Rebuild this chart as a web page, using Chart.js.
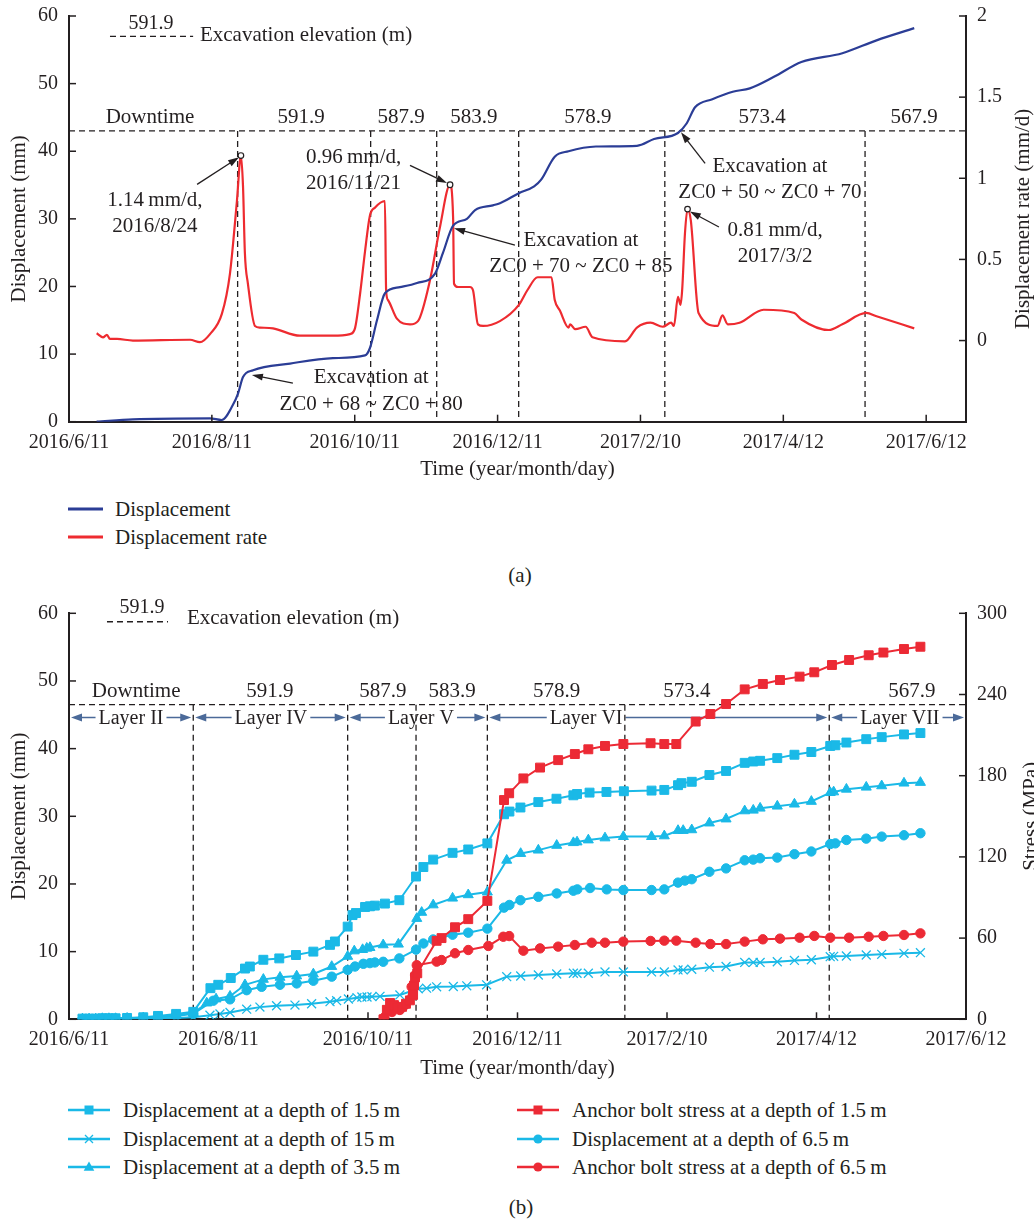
<!DOCTYPE html>
<html>
<head>
<meta charset="utf-8">
<title>Displacement, displacement rate and anchor bolt stress</title>
<script src="https://cdn.jsdelivr.net/npm/chart.js@4.4.1/dist/chart.umd.min.js"></script>
<style>
  body { margin: 0; background: #fff; }
  #page { position: relative; width: 1034px; height: 1219px; font-family: "Liberation Serif", "DejaVu Serif", serif; color: #231f20; overflow: hidden; }
  canvas { position: absolute; left: 0; }
  .item { position: absolute; height: 24px; display: flex; align-items: center; white-space: nowrap; font-size: 21px; }
  .item svg { flex: none; }
  .caption { position: absolute; font-size: 21px; transform: translate(-50%, -50%); }
</style>
</head>
<body>
<div id="page">
  <canvas id="chartA" width="1034" height="490" style="top:-8px"></canvas>
  <div id="legendA"></div>
  <div class="caption" style="left:520px; top:575px">(a)</div>
  <canvas id="chartB" width="1034" height="492" style="top:590px"></canvas>
  <div id="legendB"></div>
  <div class="caption" style="left:521px; top:1207px">(b)</div>
</div>
<script>
// shared time axis: days since 2016/6/11
const tickDays = [0, 61, 122, 183, 244, 305, 366];
const tickLabels = ["2016/6/11", "2016/8/11", "2016/10/11", "2016/12/11", "2017/2/10", "2017/4/12", "2017/6/12"];

// ---- chart (a) ----
const dispDays = [11.8, 27.3, 60.2, 65.2, 70.0, 72.2, 74.3, 78.6, 94.4, 112.7, 126.4, 128.5, 131.5, 134.9, 141.3, 148.6, 156.3, 159.7, 164.0, 169.9, 173.4, 181.0, 184.0, 192.1, 198.6, 201.6, 207.4, 213.3, 225.0, 242.5, 249.8, 260.0, 263.7, 267.3, 274.7, 283.4, 290.7, 301.0, 312.7, 330.2, 344.8, 360.9];
const dispValues = [0, 0.35, 0.5, 0.25, 2.5, 4.2, 6.6, 7.6, 8.6, 9.4, 9.8, 10.9, 15, 19, 19.9, 20.5, 21.9, 25, 29, 30, 31.3, 32, 32.3, 33.8, 34.8, 35.8, 39.2, 40, 40.7, 40.8, 41.8, 42.7, 44.1, 46.5, 47.7, 48.8, 49.3, 51, 53.2, 54.5, 56.4, 58.2];

const rateDays = [11.8, 14.5, 16.2, 17.5, 20.5, 27.3, 51.7, 55.9, 60.2, 65.3, 68.7, 71.7, 73.4, 74.3, 75.1, 76.4, 79.4, 81.6, 87.1, 98.6, 112.7, 120.0, 122.1, 124.3, 126.4, 128.5, 130.7, 134.9, 135.4, 136.2, 140.0, 145.6, 149.0, 154.1, 158.4, 162.7, 164.0, 164.4, 166.1, 171.2, 172.5, 174.6, 176.8, 184.0, 192.1, 195.7, 200.1, 206.0, 207.4, 209.6, 213.3, 214.0, 216.2, 220.6, 223.5, 237.4, 242.5, 248.3, 253.5, 257.1, 258.3, 260.0, 261.1, 261.8, 263.0, 264.1, 265.5, 268.8, 276.9, 279.0, 281.3, 286.3, 296.6, 309.7, 312.7, 324.4, 330.2, 340.4, 344.8, 360.9];
const rateValues = [0.045, 0.02, 0.035, 0.01, 0.01, 0, 0.005, -0.01, 0.04, 0.166, 0.41, 0.86, 1.14, 0.95, 0.54, 0.35, 0.09, 0.08, 0.075, 0.03, 0.03, 0.04, 0.075, 0.29, 0.55, 0.77, 0.82, 0.86, 0.31, 0.25, 0.135, 0.10, 0.12, 0.37, 0.70, 0.96, 0.76, 0.35, 0.33, 0.33, 0.31, 0.10, 0.09, 0.12, 0.22, 0.31, 0.39, 0.39, 0.25, 0.185, 0.08, 0.10, 0.07, 0.085, 0.02, -0.005, 0.08, 0.11, 0.085, 0.11, 0.09, 0.27, 0.22, 0.31, 0.66, 0.81, 0.74, 0.17, 0.09, 0.155, 0.10, 0.11, 0.19, 0.17, 0.13, 0.065, 0.10, 0.17, 0.15, 0.075];
const rateTicks = [0, 0.5, 1, 1.5, 2];

const peakDays = [73.4, 162.7, 264.1];
const peakRates = [1.14, 0.96, 0.81];

const stageDaysA = [72.0, 128.8, 157.0, 192.0, 254.4, 339.9];
const stageLabels = ["Downtime", "591.9", "587.9", "583.9", "578.9", "573.4", "567.9"];
const stageLabelDaysA = [34.6, 99.1, 141.8, 172.9, 221.6, 295.9, 360.8];
const elevLineA = 43;

// ---- chart (b) ----
const d15Days = [5.5, 8.2, 10.9, 13.6, 16.3, 19.0, 23.7, 30.3, 36.3, 43.7, 50.7, 57.7, 60.9, 66.0, 71.8, 73.8, 79.3, 85.8, 92.6, 99.7, 106.5, 108.5, 113.7, 115.7, 117.1, 120.8, 122.8, 124.8, 128.9, 134.8, 141.6, 144.6, 148.6, 156.5, 162.9, 170.7, 177.5, 179.7, 184.2, 191.5, 198.9, 205.8, 207.3, 212.4, 219.3, 226.4, 237.7, 242.9, 248.5, 249.9, 254.1, 261.3, 268.1, 275.7, 279.2, 282.0, 289.0, 296.0, 302.9, 310.6, 312.7, 317.2, 325.3, 331.6, 340.7, 347.4];
const d15Values = [0.1, 0.1, 0.1, 0.15, 0.15, 0.15, 0.2, 0.3, 0.5, 0.8, 1.1, 4.6, 5.1, 6.1, 7.5, 7.8, 8.8, 9.0, 9.5, 10.0, 11.0, 11.5, 13.7, 15.4, 15.7, 16.6, 16.7, 16.8, 17.1, 17.6, 21.1, 22.5, 23.6, 24.6, 25.1, 26.0, 30.3, 30.7, 31.3, 32.1, 32.6, 33.1, 33.3, 33.5, 33.6, 33.7, 33.8, 33.9, 34.6, 34.9, 35.1, 36.1, 36.7, 37.9, 38.1, 38.2, 38.6, 39.1, 39.5, 40.4, 40.5, 40.9, 41.4, 41.7, 42.1, 42.3];

const d150Days = [5.5, 8.2, 10.9, 13.6, 16.3, 19.0, 23.7, 30.3, 36.3, 43.7, 50.7, 57.5, 61.6, 65.7, 72.5, 77.9, 84.7, 92.2, 99.0, 106.5, 109.2, 114.0, 117.5, 119.5, 121.6, 123.6, 126.9, 135.0, 142.5, 145.9, 150.0, 156.8, 162.3, 170.4, 178.6, 184.3, 191.5, 199.0, 205.8, 207.3, 211.9, 218.7, 226.2, 237.7, 242.9, 248.5, 250.6, 254.1, 261.3, 268.1, 275.7, 279.2, 282.0, 289.0, 296.0, 302.9, 310.6, 312.0, 317.2, 325.3, 331.6, 340.7, 347.4];
const d150Values = [0, 0, 0, 0.05, 0.05, 0.05, 0.1, 0.1, 0.15, 0.2, 0.3, 0.6, 0.8, 1.0, 1.5, 1.8, 2.0, 2.1, 2.3, 2.6, 2.75, 3.0, 3.2, 3.3, 3.3, 3.35, 3.4, 3.6, 4.5, 4.6, 4.8, 4.85, 4.95, 5.1, 6.3, 6.4, 6.55, 6.7, 6.8, 6.8, 6.8, 7.0, 7.0, 7.0, 7.0, 7.3, 7.3, 7.4, 7.7, 7.8, 8.4, 8.4, 8.4, 8.5, 8.7, 8.8, 9.25, 9.3, 9.35, 9.5, 9.6, 9.75, 9.85];

const d35Days = [5.5, 8.2, 10.9, 13.6, 16.3, 19.0, 23.7, 30.3, 36.3, 43.7, 50.7, 56.2, 60.0, 65.7, 71.8, 79.3, 86.1, 92.9, 99.7, 107.2, 113.7, 116.4, 119.8, 121.5, 122.8, 128.2, 134.4, 141.9, 143.9, 148.6, 156.5, 162.9, 170.7, 178.6, 184.3, 191.5, 199.0, 205.8, 207.3, 211.9, 218.7, 226.2, 237.7, 242.9, 248.5, 250.6, 254.1, 261.3, 268.1, 275.7, 279.2, 282.0, 289.0, 296.0, 302.9, 310.6, 312.0, 317.2, 325.3, 331.6, 340.7, 347.4];
const d35Values = [0.05, 0.05, 0.05, 0.1, 0.1, 0.1, 0.15, 0.2, 0.35, 0.6, 0.9, 2.4, 3.0, 3.4, 5.1, 5.9, 6.2, 6.4, 6.7, 7.8, 9.3, 10.1, 10.3, 10.5, 10.6, 11.0, 11.1, 14.9, 15.8, 16.9, 17.9, 18.4, 18.8, 23.5, 24.5, 25.0, 25.7, 26.1, 26.2, 26.5, 26.8, 27.0, 27.0, 27.1, 27.9, 27.9, 28.0, 29.0, 29.6, 30.8, 30.9, 31.2, 31.5, 31.8, 32.2, 33.5, 33.6, 34.0, 34.3, 34.5, 34.9, 35.0];

const d65Days = [5.5, 8.2, 10.9, 13.6, 16.3, 19.0, 23.7, 30.3, 36.3, 43.7, 50.7, 58.9, 65.7, 72.5, 78.6, 86.1, 92.9, 99.7, 107.2, 113.7, 116.7, 120.1, 122.8, 124.8, 128.2, 134.8, 141.6, 144.6, 148.6, 156.5, 162.9, 170.7, 177.5, 179.7, 184.2, 191.5, 199.0, 205.8, 207.4, 212.6, 219.4, 226.2, 237.7, 242.9, 248.5, 251.3, 254.1, 261.3, 268.1, 275.7, 279.2, 282.0, 289.0, 296.0, 302.9, 310.6, 312.7, 317.2, 325.3, 331.6, 340.7, 347.4];
const d65Values = [0.05, 0.05, 0.05, 0.1, 0.1, 0.1, 0.15, 0.2, 0.3, 0.5, 0.8, 2.75, 2.95, 4.3, 4.8, 5.1, 5.3, 5.7, 6.3, 7.3, 7.8, 8.2, 8.3, 8.4, 8.5, 9.0, 10.3, 11.2, 11.8, 12.5, 12.8, 13.4, 16.5, 16.9, 17.6, 18.1, 18.6, 19.0, 19.2, 19.4, 19.2, 19.1, 19.1, 19.2, 20.2, 20.5, 20.7, 21.8, 22.3, 23.5, 23.6, 23.8, 23.9, 24.4, 24.8, 25.9, 26.0, 26.5, 26.7, 27.0, 27.2, 27.5];

const s15Days = [128.3, 129.7, 131.0, 132.6, 134.2, 135.9, 137.5, 139.1, 140.4, 140.8, 141.2, 142.1, 150.0, 152.0, 157.5, 162.9, 170.7, 177.5, 179.6, 185.4, 192.2, 199.6, 206.4, 211.9, 218.7, 226.2, 237.3, 242.9, 247.8, 255.7, 261.7, 268.1, 275.7, 283.1, 290.1, 298.1, 304.1, 311.3, 318.3, 326.3, 332.3, 340.7, 347.4];
const s15Values = [0, 7, 12, 10.5, 8.5, 9.2, 11.5, 14, 18, 25, 31, 34, 58, 60, 68, 74, 87.5, 162, 167, 178, 186, 191.5, 196, 199.5, 202, 203.4, 204, 203.4, 203.4, 220, 225.6, 233, 243.8, 247.8, 250.7, 253.2, 256.4, 261.8, 265.5, 269, 271, 273.6, 275.3];

const s65Days = [128.7, 131.8, 135.0, 137.1, 139.8, 141.2, 141.9, 150.0, 152.0, 157.5, 162.9, 171.1, 177.2, 179.6, 185.4, 192.2, 199.6, 206.4, 213.3, 218.7, 226.2, 237.3, 242.9, 247.8, 255.7, 261.7, 268.1, 275.7, 283.1, 290.1, 298.1, 304.1, 310.6, 318.3, 326.3, 332.3, 340.7, 347.4];
const s65Values = [1.5, 5.4, 6.9, 10.6, 24, 32.7, 40, 42.6, 43.8, 48.8, 51.2, 54.2, 61, 61.5, 50.7, 52.4, 53.7, 54.9, 56.6, 56.6, 57.4, 57.9, 58.1, 58.1, 56.6, 55.6, 55.6, 57.4, 59.1, 59.6, 60.3, 61.6, 60.3, 60.3, 61, 61.6, 62.3, 63.5];

const stageDaysB = [50.7, 113.7, 141.6, 170.7, 226.8, 310.2];
const stageLabelDaysB = [27.4, 82.0, 128.1, 156.3, 199.0, 252.1, 343.9];
const elevLineB = 46.5;
const layerNames = ["Layer II", "Layer IV", "Layer V", "Layer VI", "Layer VII"];
const layerBounds = [0, 50.7, 113.7, 170.7, 310.2, 366];
const layerLabelDays = [25.3, 82.4, 143.6, 211.0, 339.0];
const layerArrowVal = 44.6;

// colours and fonts
const ink = "#231f20";
const blue = "#2b3d96";
const red = "#ee2b30";
const cyan = "#1ab9e7";
const red2 = "#ec2a35";
const layerBlue = "#4b6a99";
const serif = "'Liberation Serif', 'DejaVu Serif', serif";

Chart.defaults.font.family = serif;
Chart.defaults.font.size = 20;
Chart.defaults.color = ink;

// annotation layout for (a), in data units (day, displacement)
const notesA = [
  { lines: ["1.14\u2009mm/d,", "2016/8/24"], day: 36.7, vals: [32.7, 28.9], align: "center", from: [54.7, 35.1], to: [72.6, 39.1] },
  { lines: ["0.96\u2009mm/d,", "2016/11/21"], day: 101.2, vals: [39.1, 35.3], align: "left", from: [145.6, 37.9], to: [161.4, 35.3] },
  { lines: ["Excavation at", "ZC0 + 68 ~ ZC0 + 80"], day: 129, vals: [6.5, 2.6], align: "center", from: [95.6, 5.7], to: [78.1, 6.9] },
  { lines: ["Excavation at", "ZC0 + 70 ~ ZC0 + 85"], day: 218.6, vals: [26.8, 23.0], align: "center", from: [190.4, 26.1], to: [164.4, 28.6] },
  { lines: ["Excavation at", "ZC0 + 50 ~ ZC0 + 70"], day: 299.3, vals: [37.8, 33.9], align: "center", from: [271.6, 38.2], to: [261.3, 42.8] },
  { lines: ["0.81\u2009mm/d,", "2017/3/2"], day: 301.5, vals: [28.3, 24.5], align: "center", from: [277.5, 28.8], to: [265.1, 31.1] }
];
const keyA = { from: 17.5, to: 53, lineVal: 57, numDay: 35, numVal: 58.9, textDay: 55.9, textVal: 57.1 };
const keyB = { from: 15.5, to: 40.4, lineVal: 58.75, numDay: 29.8, numVal: 60.8, textDay: 48.1, textVal: 59.3 };

function pts(days, values) {
  return days.map((d, i) => ({ x: d, y: values[i] }));
}

function seg(ctx, x1, y1, x2, y2) {
  ctx.beginPath();
  ctx.moveTo(x1, y1);
  ctx.lineTo(x2, y2);
  ctx.stroke();
}

function arrowHead(ctx, x1, y1, x2, y2, len, half) {
  const a = Math.atan2(y2 - y1, x2 - x1);
  const bx = x2 - len * Math.cos(a), by = y2 - len * Math.sin(a);
  ctx.beginPath();
  ctx.moveTo(x2, y2);
  ctx.lineTo(bx + half * Math.sin(a), by - half * Math.cos(a));
  ctx.lineTo(bx - half * Math.sin(a), by + half * Math.cos(a));
  ctx.closePath();
  ctx.fill();
}

function arrow(ctx, x1, y1, x2, y2) {
  const a = Math.atan2(y2 - y1, x2 - x1);
  seg(ctx, x1, y1, x2 - 6 * Math.cos(a), y2 - 6 * Math.sin(a));
  arrowHead(ctx, x1, y1, x2, y2, 11, 3.5);
}

function dateTicks(scale) {
  scale.ticks = tickDays.map(v => ({ value: v }));
}

function inwardTicks(chart) {
  const { ctx, chartArea: a, scales } = chart;
  ctx.save();
  ctx.strokeStyle = ink;
  ctx.lineWidth = 1.5;
  scales.x.ticks.forEach(t => {
    const p = scales.x.getPixelForValue(t.value);
    seg(ctx, p, a.bottom, p, a.bottom - 7);
  });
  scales.y.ticks.forEach(t => {
    const p = scales.y.getPixelForValue(t.value);
    seg(ctx, a.left, p, a.left + 7, p);
  });
  scales.y1.ticks.forEach(t => {
    const p = scales.y1.getPixelForValue(t.value);
    seg(ctx, a.right, p, a.right - 7, p);
  });
  ctx.restore();
}

function sideTitle(chart, text, x) {
  const { ctx, chartArea: a } = chart;
  ctx.save();
  ctx.translate(x, (a.top + a.bottom) / 2);
  ctx.rotate(-Math.PI / 2);
  ctx.font = "21px " + serif;
  ctx.fillStyle = ink;
  ctx.textAlign = "center";
  ctx.textBaseline = "middle";
  ctx.fillText(text, 0, 0);
  ctx.restore();
}

function elevationKey(chart, key) {
  const { ctx, scales: { x, y } } = chart;
  ctx.save();
  ctx.strokeStyle = ink;
  ctx.fillStyle = ink;
  ctx.lineWidth = 1.3;
  ctx.setLineDash([6, 4]);
  const ly = y.getPixelForValue(key.lineVal);
  seg(ctx, x.getPixelForValue(key.from), ly, x.getPixelForValue(key.to), ly);
  ctx.setLineDash([]);
  ctx.font = "20px " + serif;
  ctx.textBaseline = "middle";
  ctx.textAlign = "center";
  ctx.fillText("591.9", x.getPixelForValue(key.numDay), y.getPixelForValue(key.numVal));
  ctx.font = "21px " + serif;
  ctx.textAlign = "left";
  ctx.fillText("Excavation elevation (m)", x.getPixelForValue(key.textDay), y.getPixelForValue(key.textVal));
  ctx.restore();
}

function stageLines(chart, days, level) {
  const { ctx, chartArea: a, scales: { x, y } } = chart;
  const ly = y.getPixelForValue(level);
  ctx.save();
  ctx.strokeStyle = ink;
  ctx.lineWidth = 1.3;
  ctx.setLineDash([6, 4]);
  seg(ctx, a.left, ly, a.right, ly);
  days.forEach(d => {
    const px = x.getPixelForValue(d);
    seg(ctx, px, ly, px, a.bottom);
  });
  ctx.restore();
}

function stageText(chart, days, val) {
  const { ctx, scales: { x, y } } = chart;
  ctx.save();
  ctx.fillStyle = ink;
  ctx.font = "21px " + serif;
  ctx.textAlign = "center";
  ctx.textBaseline = "middle";
  stageLabels.forEach((t, i) => ctx.fillText(t, x.getPixelForValue(days[i]), y.getPixelForValue(val)));
  ctx.restore();
}

const overlayA = {
  id: "overlayA",
  beforeDatasetsDraw(chart) {
    stageLines(chart, stageDaysA, elevLineA);
    stageText(chart, stageLabelDaysA, 45.0);
    elevationKey(chart, keyA);
  },
  afterDatasetsDraw(chart) {
    const { ctx, scales: { x, y, y1 } } = chart;
    ctx.save();
    ctx.fillStyle = ink;
    ctx.strokeStyle = ink;
    ctx.lineWidth = 1.3;
    ctx.font = "21px " + serif;
    ctx.textBaseline = "middle";
    notesA.forEach(n => {
      ctx.textAlign = n.align;
      n.lines.forEach((t, i) => ctx.fillText(t, x.getPixelForValue(n.day), y.getPixelForValue(n.vals[i])));
      arrow(ctx, x.getPixelForValue(n.from[0]), y.getPixelForValue(n.from[1]),
        x.getPixelForValue(n.to[0]), y.getPixelForValue(n.to[1]));
    });
    peakDays.forEach((d, i) => {
      ctx.beginPath();
      ctx.arc(x.getPixelForValue(d), y1.getPixelForValue(peakRates[i]), 2.8, 0, Math.PI * 2);
      ctx.fillStyle = "#fff";
      ctx.fill();
      ctx.lineWidth = 1.2;
      ctx.stroke();
    });
    ctx.restore();
  },
  afterDraw(chart) {
    inwardTicks(chart);
    sideTitle(chart, "Displacement rate (mm/d)", 1023.5);
  }
};

const overlayB = {
  id: "overlayB",
  beforeDatasetsDraw(chart) {
    const { ctx, scales: { x, y } } = chart;
    const py = y.getPixelForValue(layerArrowVal);
    ctx.save();
    ctx.strokeStyle = layerBlue;
    ctx.lineWidth = 1.5;
    ctx.font = "20px " + serif;
    ctx.textAlign = "center";
    ctx.textBaseline = "middle";
    layerNames.forEach((name, i) => {
      const x1 = x.getPixelForValue(layerBounds[i]) + 2;
      const x2 = x.getPixelForValue(layerBounds[i + 1]) - 2;
      ctx.fillStyle = layerBlue;
      seg(ctx, x1 + 6, py, x2 - 6, py);
      arrowHead(ctx, x1 + 12, py, x1, py, 11, 4);
      arrowHead(ctx, x2 - 12, py, x2, py, 11, 4);
      const lx = x.getPixelForValue(layerLabelDays[i]);
      const w = ctx.measureText(name).width + 6;
      ctx.fillStyle = "#fff";
      ctx.fillRect(lx - w / 2, py - 11, w, 22);
      ctx.fillStyle = ink;
      ctx.fillText(name, lx, py + 1);
    });
    ctx.restore();
    stageLines(chart, stageDaysB, elevLineB);
    stageText(chart, stageLabelDaysB, 48.4);
    elevationKey(chart, keyB);
  },
  afterDraw(chart) {
    inwardTicks(chart);
    sideTitle(chart, "Stress (MPa)", 1031);
  }
};

function timeAxis(max, height, labelPad, titlePad) {
  return {
    type: "linear",
    min: 0,
    max: max,
    afterBuildTicks: dateTicks,
    afterFit: s => { s.height = height; },
    grid: { display: false, drawTicks: false },
    border: { color: ink, width: 2 },
    ticks: { callback: (v, i) => tickLabels[i], padding: labelPad, maxRotation: 0, autoSkip: false },
    title: { display: true, text: "Time (year/month/day)", font: { size: 21 }, padding: { top: 0, bottom: titlePad } }
  };
}

function leftAxis() {
  return {
    position: "left",
    min: 0,
    max: 60,
    afterFit: s => { s.width = 69; },
    grid: { display: false, drawTicks: false },
    border: { color: ink, width: 2 },
    ticks: { stepSize: 10, padding: 11 },
    title: { display: true, text: "Displacement (mm)", font: { size: 21 }, padding: { top: 6.5, bottom: 0 } }
  };
}

// chart (a)
new Chart(document.getElementById("chartA"), {
  type: "line",
  data: {
    datasets: [
      { label: "Displacement", data: pts(dispDays, dispValues), borderColor: blue, borderWidth: 2.2, pointRadius: 0, cubicInterpolationMode: "monotone", yAxisID: "y" },
      { label: "Displacement rate", data: pts(rateDays, rateValues), borderColor: red, borderWidth: 2.2, pointRadius: 0, cubicInterpolationMode: "monotone", yAxisID: "y1" }
    ]
  },
  options: {
    responsive: false,
    animation: false,
    layout: { padding: { top: 24, left: 0, right: 0, bottom: 0 } },
    plugins: { legend: { display: false }, tooltip: { enabled: false } },
    scales: {
      x: timeAxis(383, 60.3, 9, 0),
      y: leftAxis(),
      y1: {
        position: "right",
        min: -0.5,
        max: 2,
        afterBuildTicks: s => { s.ticks = rateTicks.map(v => ({ value: v })); },
        afterFit: s => { s.width = 68; },
        grid: { display: false, drawTicks: false },
        border: { color: ink, width: 2 },
        ticks: { padding: 11, callback: v => String(v) }
      }
    }
  },
  plugins: [overlayA]
});

// chart (b)
const chartB = new Chart(document.getElementById("chartB"), {
  type: "line",
  data: {
    datasets: [
      { label: "Anchor bolt stress at a depth of 1.5\u2009m", data: pts(s15Days, s15Values), color: red2, pointStyle: "rect", pointRadius: 6.3, yAxisID: "y1", slot: [1, 0] },
      { label: "Anchor bolt stress at a depth of 6.5\u2009m", data: pts(s65Days, s65Values), color: red2, pointStyle: "circle", pointRadius: 4.7, yAxisID: "y1", slot: [1, 2] },
      { label: "Displacement at a depth of 1.5\u2009m", data: pts(d15Days, d15Values), color: cyan, pointStyle: "rect", pointRadius: 6.3, yAxisID: "y", slot: [0, 0] },
      { label: "Displacement at a depth of 3.5\u2009m", data: pts(d35Days, d35Values), color: cyan, pointStyle: "triangle", pointRadius: 5.8, yAxisID: "y", slot: [0, 2] },
      { label: "Displacement at a depth of 6.5\u2009m", data: pts(d65Days, d65Values), color: cyan, pointStyle: "circle", pointRadius: 4.7, yAxisID: "y", slot: [1, 1] },
      { label: "Displacement at a depth of 15\u2009m", data: pts(d150Days, d150Values), color: cyan, pointStyle: "crossRot", pointRadius: 6.3, yAxisID: "y", slot: [0, 1] }
    ].map(ds => Object.assign(ds, {
      borderColor: ds.color,
      backgroundColor: ds.color,
      pointBorderColor: ds.color,
      pointBackgroundColor: ds.color,
      pointBorderWidth: ds.pointStyle === "crossRot" ? 1.3 : 1,
      borderWidth: 2,
      tension: 0
    }))
  },
  options: {
    responsive: false,
    animation: false,
    layout: { padding: { top: 23.3, left: 0, right: 0, bottom: 0 } },
    plugins: { legend: { display: false }, tooltip: { enabled: false } },
    scales: {
      x: timeAxis(366, 62.7, 8, 0.7),
      y: leftAxis(),
      y1: {
        position: "right",
        min: 0,
        max: 300,
        afterFit: s => { s.width = 68; },
        grid: { display: false, drawTicks: false },
        border: { color: ink, width: 2 },
        ticks: { stepSize: 60, padding: 11 }
      }
    }
  },
  plugins: [overlayB]
});

// legends
function swatch(style, color, width) {
  const c = width / 2;
  let m = "";
  if (style === "rect") m = `<rect x="${c - 4.5}" y="3.5" width="9" height="9" fill="${color}"/>`;
  if (style === "circle") m = `<circle cx="${c}" cy="8" r="4.6" fill="${color}"/>`;
  if (style === "triangle") m = `<polygon points="${c},2.5 ${c + 5.3},11.8 ${c - 5.3},11.8" fill="${color}"/>`;
  if (style === "crossRot") m = `<path d="M${c - 4} 4 L${c + 4} 12 M${c + 4} 4 L${c - 4} 12" stroke="${color}" stroke-width="1.3"/>`;
  return `<svg width="${width}" height="16"><line x1="0" y1="8" x2="${width}" y2="8" stroke="${color}" stroke-width="${style ? 2.5 : 3}"/>${m}</svg>`;
}

function legendItem(left, centerY, svg, gap, text) {
  return `<div class="item" style="left:${left}px;top:${centerY - 12}px">${svg}<span style="margin-left:${gap}px">${text}</span></div>`;
}

document.getElementById("legendA").innerHTML =
  legendItem(68, 509, swatch("", blue, 35), 12, "Displacement") +
  legendItem(68, 537, swatch("", red, 35), 12, "Displacement rate");

const colLeft = [68, 517];
const rowTop = [1110, 1139, 1167];
document.getElementById("legendB").innerHTML = chartB.data.datasets.map(ds =>
  legendItem(colLeft[ds.slot[0]], rowTop[ds.slot[1]], swatch(ds.pointStyle, ds.color, 42), 13, ds.label)
).join("");
</script>
</body>
</html>
